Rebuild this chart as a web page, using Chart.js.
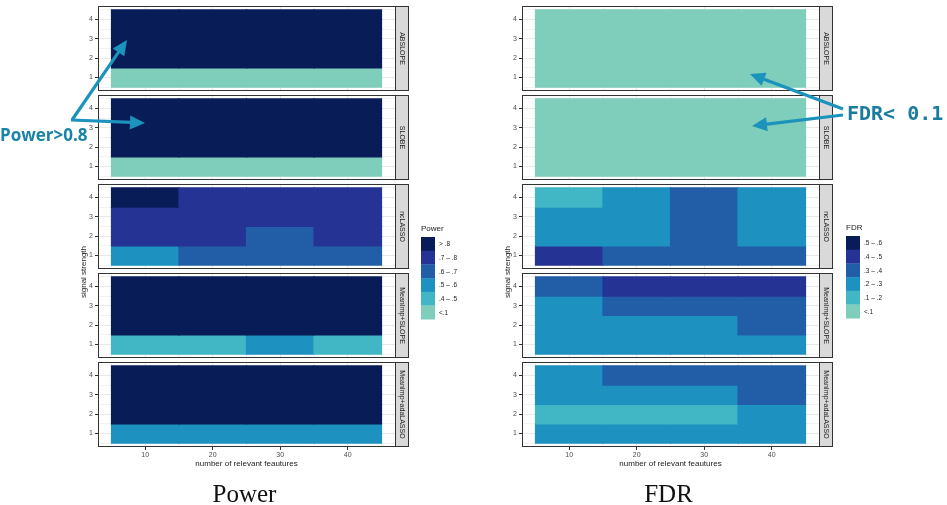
<!DOCTYPE html>
<html lang="en">
<head>
<meta charset="UTF-8">
<title>Power and FDR heatmaps</title>
<script src="https://cdn.jsdelivr.net/npm/chart.js@4.4.1/dist/chart.umd.min.js"></script>
<style>
  body { margin: 0; width: 947px; height: 505px; position: relative; background: #fff; overflow: hidden; }
  canvas { position: absolute; }
  #overlay { position: absolute; left: 0; top: 0; }
</style>
</head>
<body>
<svg id="overlay" width="947" height="505" xmlns="http://www.w3.org/2000/svg"></svg>
<script>
// grid of the tiles
const xCentres = [10, 20, 30, 40];
const yLevels = [1, 2, 3, 4];
const xTicks = [10, 20, 30, 40];
const xMinor = [5, 15, 25, 35, 45];
const yTicks = [1, 2, 3, 4];
const yMinor = [0.5, 1.5, 2.5, 3.5, 4.5];
const methods = ['ABSLOPE', 'SLOBE', 'ncLASSO', 'MeanImp+SLOPE', 'MeanImp+adaLASSO'];

// colour classes, lowest first
const palette = ['#7fcdbb', '#41b6c4', '#1d91c0', '#225ea8', '#253494', '#081d58'];
const powerLabels = ['<.1', '.4 – .5', '.5 – .6', '.6 – .7', '.7 – .8', '> .8'];
const fdrLabels = ['<.1', '.1 – .2', '.2 – .3', '.3 – .4', '.4 – .5', '.5 – .6'];

// class index of every cell: rows = signal strength 1..4, columns = xCentres
const powerABSLOPE = [[0, 0, 0, 0], [5, 5, 5, 5], [5, 5, 5, 5], [5, 5, 5, 5]];
const powerSLOBE = [[0, 0, 0, 0], [5, 5, 5, 5], [5, 5, 5, 5], [5, 5, 5, 5]];
const powerNcLASSO = [[2, 3, 3, 3], [4, 4, 3, 4], [4, 4, 4, 4], [5, 4, 4, 4]];
const powerMeanSLOPE = [[1, 1, 2, 1], [5, 5, 5, 5], [5, 5, 5, 5], [5, 5, 5, 5]];
const powerMeanAda = [[2, 2, 2, 2], [5, 5, 5, 5], [5, 5, 5, 5], [5, 5, 5, 5]];

const fdrABSLOPE = [[0, 0, 0, 0], [0, 0, 0, 0], [0, 0, 0, 0], [0, 0, 0, 0]];
const fdrSLOBE = [[0, 0, 0, 0], [0, 0, 0, 0], [0, 0, 0, 0], [0, 0, 0, 0]];
const fdrNcLASSO = [[4, 3, 3, 3], [2, 2, 3, 2], [2, 2, 3, 2], [1, 2, 3, 2]];
const fdrMeanSLOPE = [[2, 2, 2, 2], [2, 2, 2, 3], [2, 3, 3, 3], [3, 4, 4, 4]];
const fdrMeanAda = [[2, 2, 2, 2], [1, 1, 1, 2], [2, 2, 2, 3], [2, 3, 3, 3]];

const powerData = [powerABSLOPE, powerSLOBE, powerNcLASSO, powerMeanSLOPE, powerMeanAda];
const fdrData = [fdrABSLOPE, fdrSLOBE, fdrNcLASSO, fdrMeanSLOPE, fdrMeanAda];

const FONT = '"Liberation Sans", Arial, sans-serif';
const facetTops = [6, 95, 184, 273, 362];
const facetH = 85, plotW = 297, axisW = 28, stripW = 13, padR = 25;

// panel border + facet strip on the right
const facetFrame = {
  id: 'facetFrame',
  afterDraw(chart, args, opts) {
    const { ctx, chartArea: a } = chart;
    const L = Math.round(a.left), T = Math.round(a.top), R = Math.round(a.right), B = Math.round(a.bottom);
    ctx.save();
    ctx.fillStyle = '#d9d9d9';
    ctx.fillRect(R, T, stripW, B - T);
    ctx.strokeStyle = '#333333';
    ctx.lineWidth = 1;
    ctx.strokeRect(R + 0.5, T + 0.5, stripW, B - T - 1);
    ctx.strokeRect(L + 0.5, T + 0.5, R - L, B - T - 1);
    ctx.translate(R + stripW / 2 + 0.5, (T + B) / 2);
    ctx.rotate(Math.PI / 2);
    ctx.fillStyle = '#1a1a1a';
    ctx.font = '7px ' + FONT;
    ctx.textAlign = 'center';
    ctx.textBaseline = 'middle';
    ctx.fillText(opts.label, 0, 0);
    ctx.restore();
  }
};

function setTicks(list) {
  return s => { s.ticks = list.map(v => ({ value: v })); };
}
function fixSize(prop, size) {
  return s => {
    s[prop] = size;
    s.paddingTop = s.paddingBottom = s.paddingLeft = s.paddingRight = 0;
  };
}

function makeFacet(panelX, top, grid, name, last) {
  const xH = last ? 14 : 0;
  const cv = document.createElement('canvas');
  cv.width = axisW + plotW + padR;
  cv.height = facetH + 4 + xH;
  cv.style.left = (panelX - axisW) + 'px';
  cv.style.top = (top - 2) + 'px';
  document.body.insertBefore(cv, document.getElementById('overlay'));

  const pts = [], cols = [];
  yLevels.forEach((y, r) => {
    xCentres.forEach((x, c) => {
      pts.push({ x: x, y: [y - 0.5, y + 0.5] });
      cols.push(palette[grid[r][c]]);
    });
  });

  new Chart(cv, {
    type: 'bar',
    data: {
      datasets: [{
        data: pts,
        backgroundColor: cols,
        borderWidth: 0,
        inflateAmount: 0.6,
        barPercentage: 1,
        categoryPercentage: 1
      }]
    },
    options: {
      responsive: false,
      animation: false,
      layout: { padding: { top: 2, bottom: 2, left: 0, right: padR } },
      plugins: {
        legend: { display: false },
        tooltip: { enabled: false },
        facetFrame: { label: name }
      },
      scales: {
        x: {
          type: 'linear', min: 3, max: 47, offset: false,
          afterBuildTicks: setTicks(xTicks),
          afterFit: fixSize('height', xH),
          border: { display: false },
          grid: { offset: false, color: '#e8e8e8', drawTicks: last, tickLength: 3, tickColor: '#333333' },
          ticks: { display: last, font: { size: 7, family: FONT }, color: '#4d4d4d', padding: 1, maxRotation: 0 }
        },
        x2: {
          type: 'linear', position: 'bottom', min: 3, max: 47, offset: false,
          afterBuildTicks: setTicks(xMinor),
          afterFit: fixSize('height', 0),
          border: { display: false },
          grid: { offset: false, color: '#f3f3f3', drawTicks: false },
          ticks: { display: false }
        },
        y: {
          type: 'linear', min: 0.3, max: 4.7, offset: false,
          afterBuildTicks: setTicks(yTicks),
          afterFit: fixSize('width', axisW),
          border: { display: false },
          grid: { color: '#e8e8e8', tickLength: 3, tickColor: '#333333' },
          ticks: { font: { size: 7, family: FONT }, color: '#4d4d4d', padding: 2 }
        },
        y2: {
          type: 'linear', position: 'left', min: 0.3, max: 4.7, offset: false,
          afterBuildTicks: setTicks(yMinor),
          afterFit: fixSize('width', 0),
          border: { display: false },
          grid: { color: '#f3f3f3', drawTicks: false },
          ticks: { display: false }
        }
      }
    },
    plugins: [facetFrame]
  });
}

methods.forEach((m, i) => {
  makeFacet(98, facetTops[i], powerData[i], m, i === methods.length - 1);
  makeFacet(522, facetTops[i], fdrData[i], m, i === methods.length - 1);
});

// texts, legends and annotation arrows
const svg = document.getElementById('overlay');
const NS = 'http://www.w3.org/2000/svg';
function el(tag, attrs, text) {
  const e = document.createElementNS(NS, tag);
  for (const k in attrs) e.setAttribute(k, attrs[k]);
  if (text !== undefined) e.textContent = text;
  svg.appendChild(e);
  return e;
}

function panelTexts(plotX, caption, legendX, legendTop, legendTitle, labels) {
  const cx = plotX + plotW / 2;
  el('text', { x: cx, y: 466, 'text-anchor': 'middle', 'font-family': FONT, 'font-size': 8, fill: '#1a1a1a' }, 'number of relevant feautures');
  el('text', { x: 0, y: 0, transform: `translate(${plotX - 12},272) rotate(-90)`, 'text-anchor': 'middle', 'font-family': FONT, 'font-size': 8, fill: '#1a1a1a' }, 'signal strength');
  el('text', { x: cx - 2, y: 502, 'text-anchor': 'middle', 'font-family': '"Liberation Serif", serif', 'font-size': 25, fill: '#111' }, caption);
  el('text', { x: legendX, y: legendTop - 6, 'font-family': FONT, 'font-size': 8, fill: '#1a1a1a' }, legendTitle);
  const keyH = 13.7;
  for (let i = 0; i < labels.length; i++) {
    const k = labels.length - 1 - i;
    el('rect', { x: legendX, y: legendTop + i * keyH, width: 14, height: keyH + 0.3, fill: palette[k] });
    el('text', { x: legendX + 18, y: legendTop + i * keyH + keyH / 2 + 2.3, 'font-family': FONT, 'font-size': 6.5, fill: '#1a1a1a' }, labels[k]);
  }
}
panelTexts(98, 'Power', 421, 237, 'Power', powerLabels);
panelTexts(522, 'FDR', 846, 236, 'FDR', fdrLabels);

function arrow(x1, y1, x2, y2, color) {
  const dx = x2 - x1, dy = y2 - y1, len = Math.hypot(dx, dy);
  const ux = dx / len, uy = dy / len, head = 15, half = 7;
  const bx = x2 - ux * head, by = y2 - uy * head;
  el('line', { x1: x1, y1: y1, x2: bx + ux * 2, y2: by + uy * 2, stroke: color, 'stroke-width': 3.2 });
  el('polygon', { points: `${x2},${y2} ${bx - uy * half},${by + ux * half} ${bx + uy * half},${by - ux * half}`, fill: color });
}
const arrowColor = '#1b93bc';
arrow(72, 120, 127, 40, arrowColor);
arrow(71, 120, 145, 123, arrowColor);
arrow(843, 109, 750, 74, arrowColor);
arrow(843, 115, 752, 126, arrowColor);
el('text', { x: 0, y: 141, 'font-family': '"Open Sans", sans-serif', 'font-weight': 700, 'font-size': 17, fill: '#1a84a8' }, 'Power>0.8');
el('text', { x: 847, y: 120, 'font-family': '"DejaVu Sans Mono", monospace', 'font-weight': 700, 'font-size': 20, fill: '#197b9e', style: 'white-space:pre' }, 'FDR< 0.1');
</script>
</body>
</html>
